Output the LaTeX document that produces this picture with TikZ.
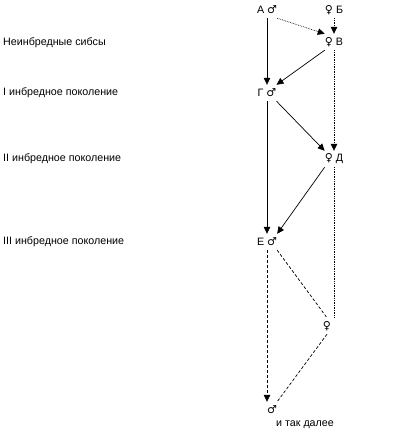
\documentclass[tikz,border=0pt]{standalone}
\usepackage{fontspec}
\setmainfont{Liberation Sans}
\newfontfamily\symfont{DejaVu Sans}
\usetikzlibrary{arrows.meta}
\begin{document}
\begin{tikzpicture}[x=1pt,y=-1pt,
  every node/.style={font=\fontsize{10.7}{13}\selectfont},
  person/.style={inner sep=0pt, minimum height=16pt, minimum width=17pt},
  gen/.style={anchor=west, inner sep=0pt},
  tip/.style={-{Triangle[length=7pt,width=6.5pt]}},
  solidline/.style={line width=0.7pt},
  dotline/.style={line width=0.7pt, densely dotted},
  dashline/.style={line width=0.7pt, dash pattern=on 3pt off 2pt}]
\useasboundingbox (0,0) rectangle (403,434);
\newcommand{\ma}{{\symfont\fontsize{11}{12}\selectfont ♂}}
\newcommand{\fe}{{\symfont\fontsize{11}{12}\selectfont ♀}}
% generation labels
\node[gen] (l0) at (3,43) {Неинбредные сибсы};
\node[gen] (l1) at (3,93) {I инбредное поколение};
\node[gen] (l2) at (3,159) {II инбредное поколение};
\node[gen] (l3) at (3,242) {III инбредное поколение};
% persons
\node[person] (a) at (267,10) {А \ma};
\node[person] (b) at (334,10) {\fe{} Б};
\node[person] (v) at (334,42) {\fe{} В};
\node[person] (g) at (267,93) {Г \ma};
\node[person] (d) at (334,159) {\fe{} Д};
\node[person] (e) at (267,242) {Е \ma};
\node[person, minimum width=8pt] (f) at (327,326) {\fe};
\node[person, minimum width=8pt] (h) at (272,410) {\ma};
\node[inner sep=0pt] (etc) at (305,425) {и так далее};
% connectors
\draw[solidline,tip] (a.south) -- (g.north);
\draw[dotline,tip] (a.south east) -- (v.north west);
\draw[dotline,tip] (b.south) -- (v.north);
\draw[solidline,tip] (v.south west) -- (g.north east);
\draw[dotline,tip] (v.south) -- (d.north);
\draw[solidline,tip] (g.south east) -- (d.north west);
\draw[solidline,tip] (g.south) -- (e.north);
\draw[solidline,tip] (d.south west) -- (e.north east);
\draw[dotline] (d.south) -- (d.south |- f.north);
\draw[dashline] (e.south east) -- (f.north);
\draw[dashline,tip] (e.south) -- (e.south |- h.north);
\draw[dashline] (f.south) -- (h.north east);
\end{tikzpicture}
\end{document}
